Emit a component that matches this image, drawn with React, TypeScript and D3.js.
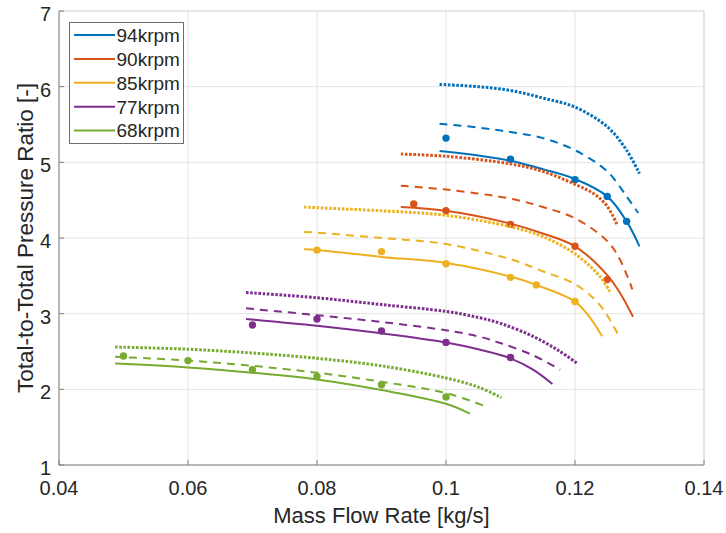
import React from "react";
import * as d3 from "d3";

type P = [number, number];

const speeds = ["94krpm", "90krpm", "85krpm", "77krpm", "68krpm"];
const palette = ["#0072BD", "#D95319", "#EDB120", "#7E2F8E", "#77AC30"];

const xTicks = [0.04, 0.06, 0.08, 0.1, 0.12, 0.14];
const yTicks = [1, 2, 3, 4, 5, 6, 7];

// 94 krpm
const solid94: P[] = [[0.099, 5.15], [0.105, 5.09], [0.11, 5.02], [0.115, 4.91], [0.12, 4.78], [0.125, 4.55], [0.128, 4.22], [0.130, 3.89]];
const dashed94: P[] = [[0.099, 5.51], [0.105, 5.46], [0.11, 5.40], [0.115, 5.32], [0.12, 5.16], [0.125, 4.88], [0.128, 4.55], [0.1298, 4.33]];
const dotted94: P[] = [[0.099, 6.03], [0.105, 6.0], [0.11, 5.95], [0.115, 5.85], [0.12, 5.73], [0.125, 5.47], [0.128, 5.16], [0.130, 4.85]];
const exp94: P[] = [[0.1, 5.32], [0.11, 5.04], [0.12, 4.77], [0.125, 4.55], [0.128, 4.22]];

// 90 krpm
const solid90: P[] = [[0.093, 4.41], [0.1, 4.36], [0.11, 4.19], [0.115, 4.06], [0.12, 3.89], [0.125, 3.51], [0.127, 3.27], [0.129, 2.96]];
const dashed90: P[] = [[0.093, 4.69], [0.1, 4.64], [0.11, 4.52], [0.115, 4.41], [0.12, 4.26], [0.125, 3.96], [0.127, 3.71], [0.1289, 3.32]];
const dotted90: P[] = [[0.093, 5.11], [0.1, 5.08], [0.11, 4.98], [0.115, 4.88], [0.12, 4.71], [0.123, 4.58], [0.125, 4.42], [0.1265, 4.18]];
const exp90: P[] = [[0.095, 4.45], [0.1, 4.36], [0.11, 4.18], [0.12, 3.89], [0.125, 3.45]];

// 85 krpm
const solid85: P[] = [[0.078, 3.85], [0.08, 3.84], [0.09, 3.75], [0.1, 3.67], [0.11, 3.49], [0.114, 3.38], [0.12, 3.16], [0.1223, 2.95], [0.1242, 2.70]];
const dashed85: P[] = [[0.078, 4.08], [0.08, 4.07], [0.09, 4.0], [0.1, 3.92], [0.11, 3.72], [0.115, 3.56], [0.12, 3.39], [0.1239, 3.11], [0.1267, 2.72]];
const dotted85: P[] = [[0.078, 4.41], [0.08, 4.40], [0.09, 4.36], [0.1, 4.30], [0.11, 4.15], [0.115, 4.02], [0.12, 3.79], [0.1239, 3.49], [0.1254, 3.29]];
const exp85: P[] = [[0.08, 3.84], [0.09, 3.82], [0.1, 3.66], [0.11, 3.48], [0.114, 3.38], [0.12, 3.16]];

// 77 krpm
const solid77: P[] = [[0.069, 2.93], [0.08, 2.84], [0.09, 2.74], [0.1, 2.62], [0.105, 2.53], [0.11, 2.41], [0.1135, 2.26], [0.1165, 2.07]];
const dashed77: P[] = [[0.069, 3.07], [0.08, 2.98], [0.09, 2.89], [0.1, 2.78], [0.105, 2.70], [0.1085, 2.61], [0.1135, 2.45], [0.1177, 2.26]];
const dotted77: P[] = [[0.069, 3.28], [0.08, 3.21], [0.09, 3.12], [0.1, 3.03], [0.105, 2.95], [0.1085, 2.87], [0.1135, 2.70], [0.1175, 2.51], [0.1204, 2.34]];
const exp77: P[] = [[0.07, 2.85], [0.08, 2.93], [0.09, 2.77], [0.1, 2.62], [0.11, 2.42]];

// 68 krpm
const solid68: P[] = [[0.0487, 2.34], [0.06, 2.29], [0.07, 2.22], [0.08, 2.13], [0.09, 1.99], [0.1, 1.81], [0.1037, 1.68]];
const dashed68: P[] = [[0.0487, 2.43], [0.06, 2.38], [0.07, 2.31], [0.08, 2.22], [0.09, 2.10], [0.1, 1.95], [0.106, 1.78]];
const dotted68: P[] = [[0.0487, 2.56], [0.06, 2.53], [0.07, 2.48], [0.08, 2.41], [0.09, 2.31], [0.1, 2.15], [0.105, 2.03], [0.1086, 1.89]];
const exp68: P[] = [[0.05, 2.44], [0.06, 2.38], [0.07, 2.26], [0.08, 2.17], [0.09, 2.06], [0.1, 1.90]];

const solids = [solid94, solid90, solid85, solid77, solid68];
const dasheds = [dashed94, dashed90, dashed85, dashed77, dashed68];
const dotteds = [dotted94, dotted90, dotted85, dotted77, dotted68];
const exps = [exp94, exp90, exp85, exp77, exp68];

const W = 726;
const H = 533;
const L = 59, R = 704, T = 11, B = 465;
const FONT = "'Liberation Sans', Arial, Helvetica, sans-serif";
const TXT = "#262626";

export default function App() {
  const x = d3.scaleLinear().domain([0.04, 0.14]).range([L, R]);
  const y = d3.scaleLinear().domain([1, 7]).range([B, T]);
  const line = d3
    .line<P>()
    .x((d) => x(d[0]))
    .y((d) => y(d[1]))
    .curve(d3.curveCatmullRom.alpha(0.5));

  const fmt = (v: number) => String(+v.toFixed(2));

  return (
    <svg
      width={W}
      height={H}
      style={{ position: "absolute", left: 0, top: 0, background: "#fff" }}
      fontFamily={FONT}
    >
      <rect x={0} y={0} width={W} height={H} fill="#fff" />
      {/* grid */}
      {xTicks.map((t) => (
        <line key={"gx" + t} x1={x(t)} x2={x(t)} y1={T} y2={B} stroke="#e3e3e3" strokeWidth={1} />
      ))}
      {yTicks.map((t) => (
        <line key={"gy" + t} x1={L} x2={R} y1={y(t)} y2={y(t)} stroke="#e3e3e3" strokeWidth={1} />
      ))}
      {/* box top/right */}
      <line x1={L} x2={R} y1={T} y2={T} stroke="#dadada" strokeWidth={1} />
      <line x1={R} x2={R} y1={T} y2={B} stroke="#dadada" strokeWidth={1} />

      {/* series */}
      {speeds.map((s, i) => (
        <g key={s}>
          <path d={line(dotteds[i]) || ""} fill="none" stroke={palette[i]} strokeWidth={3} strokeDasharray="2.6 1.6" />
          <path d={line(dasheds[i]) || ""} fill="none" stroke={palette[i]} strokeWidth={2} strokeDasharray="8 6" />
          <path d={line(solids[i]) || ""} fill="none" stroke={palette[i]} strokeWidth={2} />
          {exps[i].map((p, j) => (
            <circle key={j} cx={x(p[0])} cy={y(p[1])} r={3.7} fill={palette[i]} />
          ))}
        </g>
      ))}

      {/* axes */}
      <line x1={L} x2={R} y1={B} y2={B} stroke="#808080" strokeWidth={1} />
      <line x1={L} x2={L} y1={T} y2={B} stroke="#808080" strokeWidth={1} />
      {xTicks.map((t) => (
        <g key={"xt" + t}>
          <line x1={x(t)} x2={x(t)} y1={B} y2={B - 5} stroke="#808080" />
          <text x={x(t)} y={495} textAnchor="middle" fontSize={20} fill={TXT}>
            {fmt(t)}
          </text>
        </g>
      ))}
      {yTicks.map((t) => (
        <g key={"yt" + t}>
          <line x1={L} x2={L + 5} y1={y(t)} y2={y(t)} stroke="#808080" />
          <text x={51} y={y(t) + 10} textAnchor="end" fontSize={20} fill={TXT}>
            {t}
          </text>
        </g>
      ))}
      <text x={(L + R) / 2} y={523} textAnchor="middle" fontSize={22} fill={TXT}>
        Mass Flow Rate [kg/s]
      </text>
      <text
        transform={`translate(33, ${(T + B) / 2}) rotate(-90)`}
        textAnchor="middle"
        fontSize={22.5}
        fill={TXT}
      >
        Total-to-Total Pressure Ratio [-]
      </text>

      {/* legend */}
      <rect x={69.5} y={22.5} width={114} height={121} fill="#fff" stroke="#6e6e6e" strokeWidth={1} />
      {speeds.map((s, i) => {
        const cy = 35 + i * 23.9;
        return (
          <g key={"lg" + s}>
            <line x1={74} x2={115} y1={cy} y2={cy} stroke={palette[i]} strokeWidth={2} />
            <text x={116.5} y={cy + 6.8} fontSize={19} fill={TXT}>
              {s}
            </text>
          </g>
        );
      })}
    </svg>
  );
}
